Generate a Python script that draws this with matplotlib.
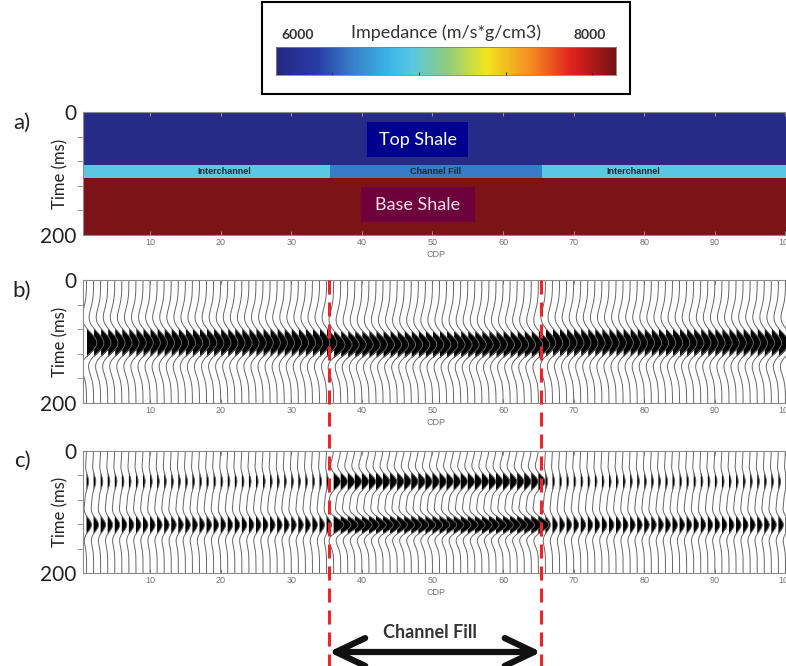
import numpy as np
import matplotlib
matplotlib.use('Agg')
from matplotlib import pyplot as plt
from matplotlib.colors import LinearSegmentedColormap
from matplotlib.lines import Line2D
from matplotlib.patches import Rectangle, FancyArrowPatch
from matplotlib.transforms import blended_transform_factory

# impedance model (m/s*g/cm3)
cdp = np.arange(1, 101)
time_ms = np.linspace(0, 200, 801)
layer_impedance = {'Top Shale': 6050, 'Interchannel': 6800,
                   'Channel Fill': 6440, 'Base Shale': 7980}
layer_top_ms = 86
layer_base_ms = 107
channel_first, channel_last = 36, 65
thin_labels = ['Interchannel', 'Channel Fill', 'Interchannel']
thin_label_cdp = [20.5, 50.5, 78.5]

# picked events of the synthetics (amplitude in trace spacings)
b_freq_hz = 11
b_event_ms = [88, 108]
b_amp_out = [0.75, 1.3]
b_amp_in = [0.5, 1.55]

c_freq_hz = 15
c_event_ms = [50, 121]
c_amp_out = [0.3, 0.7]
c_amp_in = [0.95, 1.45]

x_ticks = [10, 20, 30, 40, 50, 60, 70, 80, 90, 100]
y_minor = [40, 80, 120, 160]
cbar_ticks = [6330, 6840, 7350, 7860]
channel_marks = [35.3, 65.4]

W, H = 786, 666
cal = 'Lato'
hel = 'Liberation Sans'

cmap = LinearSegmentedColormap.from_list('imp', [
    (0.0, (38/255, 40/255, 130/255)),
    (0.12, (40/255, 60/255, 165/255)),
    (0.22, (55/255, 125/255, 200/255)),
    (0.34, (60/255, 185/255, 235/255)),
    (0.40, (90/255, 200/255, 225/255)),
    (0.50, (140/255, 205/255, 130/255)),
    (0.62, (240/255, 230/255, 30/255)),
    (0.75, (245/255, 140/255, 35/255)),
    (0.87, (225/255, 35/255, 30/255)),
    (1.0, (118/255, 18/255, 22/255))])


def ricker(t, t0, f):
    a = (np.pi * f * (t - t0) / 1000.0) ** 2
    return (1 - 2 * a) * np.exp(-a)


def fpx(x0, y0, x1, y1):
    # pixel box -> figure fraction
    return [x0 / W, 1 - y1 / H, (x1 - x0) / W, (y1 - y0) / H]


fig = plt.figure(figsize=(W / 100, H / 100), dpi=100)

# ---- colorbar legend
fig.add_artist(Rectangle((262 / W, 1 - 94 / H), (630 - 262) / W, 92 / H,
                         transform=fig.transFigure, fill=False, ec='k', lw=1.5))
cax = fig.add_axes(fpx(276, 47, 616, 75))
grad = np.linspace(6000, 8000, 256)[None, :]
cax.imshow(grad, extent=[6000, 8000, 0, 1], aspect='auto', cmap=cmap,
           vmin=6000, vmax=8000)
cax.set_yticks([])
cax.set_xticks(cbar_ticks)
cax.set_xticklabels([])
cax.tick_params(axis='x', direction='in', length=2, color='0.2')
for s in cax.spines.values():
    s.set_color('0.5')
    s.set_linewidth(0.6)
fig.text(281 / W, 1 - 35 / H, '6000', fontsize=10, family=cal, fontweight='bold',
         color='#333333', ha='left', va='center')
fig.text(446 / W, 1 - 33 / H, 'Impedance (m/s*g/cm3)', fontsize=13, family=cal,
         color='#333333', ha='center', va='center')
fig.text(606 / W, 1 - 35 / H, '8000', fontsize=10, family=cal, fontweight='bold',
         color='#333333', ha='right', va='center')


def style_axes(ax, tag, ymid):
    ax.set_xlim(0.5, 100.5)
    ax.set_ylim(200, 0)
    ax.set_xticks(x_ticks)
    ax.set_xticklabels([str(v) for v in x_ticks], fontsize=6.5, family=hel,
                       color='0.45')
    ax.tick_params(axis='x', which='major', direction='in', top=True,
                   length=3, color='0.55', pad=2.5)
    ax.set_yticks([0, 200])
    ax.set_yticklabels(['0', '200'], fontsize=15, family=cal, color='#222222')
    ax.tick_params(axis='y', which='major', length=0, pad=5)
    ax.set_yticks(y_minor, minor=True)
    ax.tick_params(axis='y', which='minor', direction='out', length=4,
                   color='0.55')
    ax.set_xlabel('CDP', fontsize=6.5, family=hel, color='0.45', labelpad=1.5)
    for s in ax.spines.values():
        s.set_color('0.55')
        s.set_linewidth(0.8)
    fig.text(60 / W, 1 - ymid / H, 'Time (ms)', rotation=90, fontsize=12,
             family=cal, color='#222222', ha='center', va='center')
    fig.text(22 / W, 1 - (ymid - 51) / H, tag, fontsize=16, family=cal,
             color='#222222', ha='center', va='center')


# ---- panel a: impedance model
ax_a = fig.add_axes(fpx(83, 112, 789, 235))
tt, cc = np.meshgrid(time_ms, cdp, indexing='ij')
model = np.full(tt.shape, float(layer_impedance['Base Shale']))
model[tt < layer_base_ms] = layer_impedance['Interchannel']
in_ch = (cc >= channel_first) & (cc <= channel_last)
model[(tt >= layer_top_ms) & (tt < layer_base_ms) & in_ch] = layer_impedance['Channel Fill']
model[tt < layer_top_ms] = layer_impedance['Top Shale']
ax_a.imshow(model, extent=[0.5, 100.5, 200, 0], aspect='auto', cmap=cmap,
            vmin=6000, vmax=8000, interpolation='nearest')
for name, xc in zip(thin_labels, thin_label_cdp):
    ax_a.text(xc, (layer_top_ms + layer_base_ms) / 2, name, fontsize=6.5,
              family=hel, fontweight='bold', color='#1a2a33',
              ha='center', va='center')
ax_a.add_patch(Rectangle((40.7, 16), 14.3, 57, color='#000090', lw=0))
ax_a.text(47.9, 45, 'Top Shale', fontsize=13, family=cal, color='white',
          ha='center', va='center')
ax_a.add_patch(Rectangle((39.9, 122), 16.1, 57, color='#6e003c', lw=0))
ax_a.text(47.9, 151, 'Base Shale', fontsize=13, family=cal, color='#ffe0ea',
          ha='center', va='center')
style_axes(ax_a, 'a)', 173.5)


# ---- panels b and c: wiggle synthetics
def wiggles(ax, freq, events, amp_out, amp_in):
    for i in cdp:
        amps = amp_in if channel_first <= i <= channel_last else amp_out
        tr = np.zeros_like(time_ms)
        for t0, a in zip(events, amps):
            tr += a * ricker(time_ms, t0, freq)
        ax.fill_betweenx(time_ms, i, i + tr, where=tr > 0, interpolate=True,
                         color='black', lw=0)
        ax.plot(i + tr, time_ms, color='0.4', lw=0.7)


ax_b = fig.add_axes(fpx(83, 280, 789, 403))
wiggles(ax_b, b_freq_hz, b_event_ms, b_amp_out, b_amp_in)
style_axes(ax_b, 'b)', 341.5)

ax_c = fig.add_axes(fpx(83, 451, 789, 573))
wiggles(ax_c, c_freq_hz, c_event_ms, c_amp_out, c_amp_in)
style_axes(ax_c, 'c)', 512)

# ---- channel markers and arrow
trans = blended_transform_factory(ax_c.transData, fig.transFigure)
for xm in channel_marks:
    fig.add_artist(Line2D([xm, xm], [1 - 280 / H, 0], transform=trans,
                          color='#e8262b', lw=2.2, dashes=(4.6, 2.6)))
arrow = FancyArrowPatch((channel_marks[0], 1 - 652 / H), (channel_marks[1], 1 - 652 / H),
                        transform=trans,
                        arrowstyle='<->,head_length=21,head_width=10',
                        mutation_scale=1, lw=4.5, color='#111111',
                        shrinkA=0, shrinkB=0)
fig.add_artist(arrow)
fig.text(430 / W, 1 - 633 / H, 'Channel Fill', fontsize=13, family=cal,
         fontweight='bold', color='#333333', ha='center', va='center')

fig.savefig('out.png', dpi=100)
